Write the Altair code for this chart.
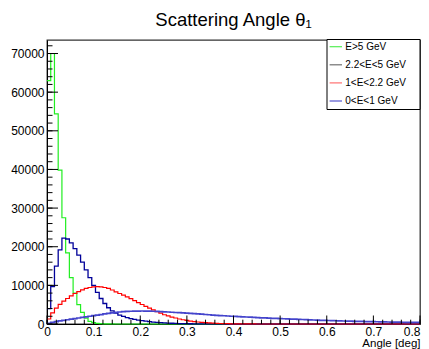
import altair as alt
import pandas as pd

# ---------------- data ----------------
BIN_WIDTH = 0.008          # 100 bins over 0 .. 0.8 deg

SERIES = ["E>5 GeV", "2.2<E<5 GeV", "1<E<2.2 GeV", "0<E<1 GeV"]

E_GT5 = [63000, 70000, 54400, 39800, 27500, 18400, 12000, 8000, 5000, 3000,
         1500, 700, 350, 170, 80, 40, 20, 10, 5] + [0] * 81

E_2_5 = [4000, 9700, 15000, 19200, 22200, 22000, 21000, 19500, 17800, 16000,
         14000, 12000, 10000, 8200, 6600, 5300, 4200, 3400, 2800, 2300,
         1950, 1650, 1400, 1180, 1000, 850, 720, 600, 500, 410,
         340, 280, 230, 190, 150, 120, 100, 80, 65, 50,
         40, 32, 25, 20, 15, 12, 9, 7, 5, 4,
         3, 2, 1] + [0] * 47

E_1_2 = [1300, 2900, 4100, 5100, 5900, 6600, 7300, 7900, 8400, 8850,
         9200, 9450, 9600, 9650, 9600, 9450, 9200, 8800, 8300, 7900,
         7450, 7000, 6550, 6050, 5550, 5050, 4550, 4100, 3650, 3200,
         2800, 2400, 2100, 1800, 1550, 1300, 1100, 920, 770, 640,
         520, 420, 340, 270, 210, 165, 130, 100, 75, 55,
         40, 30, 22, 16, 11, 8, 5, 3, 2, 1] + [0] * 40

E_0_1 = [150, 400, 600, 800, 950, 1100, 1250, 1400, 1550, 1700,
         1850, 2000, 2150, 2300, 2450, 2600, 2750, 2880, 3000, 3100,
         3180, 3250, 3300, 3330, 3350, 3360, 3350, 3330, 3300, 3260,
         3210, 3160, 3100, 3040, 2980, 2920, 2860, 2800, 2740, 2670,
         2600, 2530, 2460, 2390, 2320, 2250, 2190, 2130, 2070, 2010,
         1960, 1910, 1860, 1810, 1760, 1710, 1660, 1610, 1560, 1520,
         1480, 1440, 1400, 1360, 1320, 1280, 1240, 1200, 1160, 1120,
         1080, 1040, 1000, 960, 930, 900, 870, 840, 810, 780,
         750, 720, 700, 680, 660, 640, 620, 600, 580, 560,
         540, 520, 500, 485, 470, 455, 440, 425, 410, 400]

X_MAJOR = [0.0, 0.1, 0.2, 0.3, 0.4, 0.5, 0.6, 0.7, 0.8]
X_MINOR = [round(0.02 * i, 2) for i in range(41)]
Y_MAJOR = [0, 10000, 20000, 30000, 40000, 50000, 60000, 70000]
Y_MINOR = [2000 * i for i in range(37)]

# ---------------- styling ----------------
LINE_COLORS = ["#22ee22", "#000099", "#ff0000", "#4444cc"]
LINE_WIDTHS = [1.2, 1.3, 1.2, 1.7]
LEGEND_COLORS = ["#55ee55", "#707070", "#ff7070", "#5555cc"]
FONT = "Liberation Sans"
W, H = 373, 284

xscale = alt.Scale(domain=[0, 0.8], nice=False, zero=False)
yscale = alt.Scale(domain=[0, 73500], nice=False)

X = alt.X("angle:Q", scale=xscale,
          axis=alt.Axis(values=X_MAJOR, format="~g", ticks=False, tickSize=0,
                        grid=False, labelPadding=2, labelFontSize=12,
                        labelFont=FONT, titleFont=FONT,
                        labelAlign={"condition": {"test": "datum.value >= 0.79",
                                                  "value": "right"},
                                    "value": "center"},
                        title="Angle [deg]", titleFontSize=11.5,
                        titleFontWeight="normal", titleAlign="right",
                        titleAnchor="end", titleX=W, titleY=22.5,
                        titleBaseline="alphabetic", labelFlush=False),
          title="Angle [deg]")
Y = alt.Y("count:Q", scale=yscale,
          axis=alt.Axis(values=Y_MAJOR, format="d", ticks=False, tickSize=0,
                        grid=False, labelPadding=3, labelFontSize=12,
                        labelFont=FONT, title=None, labelFlush=False),
          title=None)


def hist_frame(values):
    edges = [round(i * BIN_WIDTH, 4) for i in range(len(values) + 1)]
    return pd.DataFrame({"angle": edges, "count": list(values) + [values[-1]]})


layers = []
for vals, col, lw in zip([E_GT5, E_2_5, E_1_2, E_0_1], LINE_COLORS, LINE_WIDTHS):
    layers.append(
        alt.Chart(hist_frame(vals)).mark_line(
            interpolate="step-after", color=col, strokeWidth=lw
        ).encode(x=X, y=Y)
    )

# inward ROOT-style ticks
layers.append(alt.Chart(pd.DataFrame({"angle": X_MAJOR})).mark_rule(color="black")
              .encode(x=X, y=alt.value(H), y2=alt.value(H - 8.5)))
layers.append(alt.Chart(pd.DataFrame({"angle": X_MINOR})).mark_rule(color="black")
              .encode(x=X, y=alt.value(H), y2=alt.value(H - 4.3)))
layers.append(alt.Chart(pd.DataFrame({"count": Y_MAJOR})).mark_rule(color="black")
              .encode(y=Y, x=alt.value(0), x2=alt.value(11)))
layers.append(alt.Chart(pd.DataFrame({"count": Y_MINOR})).mark_rule(color="black")
              .encode(y=Y, x=alt.value(0), x2=alt.value(5.5)))

# legend box
layers.append(alt.Chart(pd.DataFrame({"k": [0]})).mark_rect(
    fill="white", stroke="black", strokeWidth=1
).encode(x=alt.value(280), x2=alt.value(373), y=alt.value(-0.5), y2=alt.value(69.5)))
for i, (name, col) in enumerate(zip(SERIES, LEGEND_COLORS)):
    ypix = 6.7 + 18.1 * i
    layers.append(alt.Chart(pd.DataFrame({"name": [name]})).mark_rule(
        color=col, strokeWidth=1.2
    ).encode(x=alt.value(282.6), x2=alt.value(295), y=alt.value(ypix)))
    layers.append(alt.Chart(pd.DataFrame({"name": [name]})).mark_text(
        align="left", baseline="middle", fontSize=10, font=FONT, color="black"
    ).encode(text="name:N", x=alt.value(298.3), y=alt.value(ypix)))

chart = alt.layer(*layers).properties(
    width=W, height=H,
    title=alt.TitleParams("Scattering Angle θ₁", fontSize=18.5, font=FONT,
                          fontWeight="normal", anchor="middle", offset=10,
                          color="black"),
    autosize=alt.AutoSizeParams(type="none"),
    padding={"left": 39, "top": 32, "right": 1, "bottom": 26},
).configure_view(
    stroke="#333333", strokeWidth=1.3
).configure_axis(
    domainColor="black", labelColor="black", titleColor="black",
    labelFont=FONT, titleFont=FONT
)

chart.save("out.html", embed_options={"renderer": "svg", "actions": False})
